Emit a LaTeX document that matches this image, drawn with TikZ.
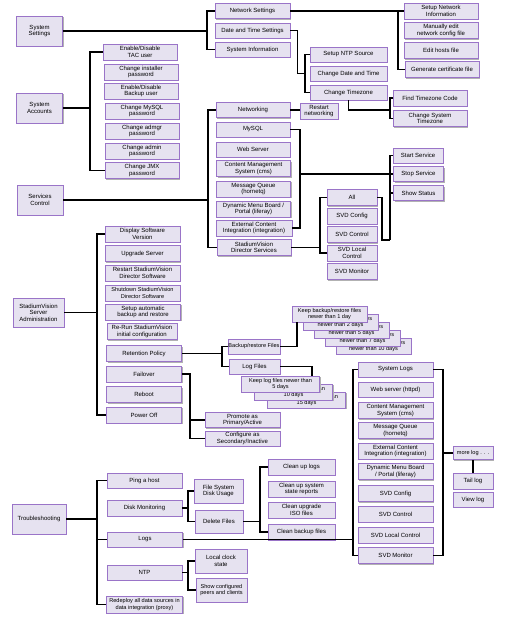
\documentclass[tikz,border=0pt]{standalone}
\usepackage{fontspec}
\newfontfamily\menufont{Liberation Sans}
\usetikzlibrary{shadows}
\definecolor{boxfill}{HTML}{E6E2F0}
\definecolor{boxline}{HTML}{9A74C8}
\newcommand\menusize{\menufont\fontsize{6}{6.6}\selectfont}
\tikzset{
  menu/.style={draw=boxline, fill=boxfill, line width=0.7pt, align=center, font=\menusize,
    inner sep=0.5pt, minimum width=74pt, minimum height=15pt,
    general shadow={fill=black!30, shadow xshift=1.3pt, shadow yshift=-1.3pt}},
  root/.style={menu, minimum width=46pt, minimum height=30pt},
  tight/.style={font=\menufont\fontsize{5.6}{6.4}\selectfont},
  link/.style={line width=1.1pt}
}
\begin{document}
\begin{tikzpicture}[x=1pt,y=-1pt]
\useasboundingbox[fill=white] (0,0) rectangle (527,621);

\node[root] (sysset) at (39.5,31) {System\\Settings};
\node[root] (sysacc) at (39.5,108) {System\\Accounts};
\node[root] (svcctl) at (40,200) {Services\\Control};
\node[root, minimum width=51pt, minimum height=29pt] (svsa) at (38.5,312.5) {StadiumVision\\Server\\Administration};
\node[root, minimum width=54pt] (trouble) at (39,519) {Troubleshooting};

\node[menu, minimum width=75pt] (netset) at (252.5,11) {Network Settings};
\node[menu, minimum width=75pt] (datetime) at (252.5,30.5) {Date and Time Settings};
\node[menu, minimum width=75pt] (sysinfo) at (252.5,49.5) {System Information};

\node[menu, minimum height=16pt] (netinfo) at (441,11) {Setup Network\\Information};
\node[menu, minimum height=16pt] (netcfg) at (441,30.5) {Manually edit\\network config file};
\node[menu, minimum height=16pt] (hosts) at (441,50.5) {Edit hosts file};
\node[menu, minimum height=16pt] (cert) at (442,69.5) {Generate certificate file};

\node[menu, minimum width=77pt] (ntpsrc) at (348.5,54.5) {Setup NTP Source};
\node[menu, minimum width=77pt] (chdate) at (348.5,73.5) {Change Date and Time};
\node[menu, minimum width=77pt] (chtz) at (348.5,92.5) {Change Timezone};
\node[menu, minimum height=16pt] (findtz) at (430,98) {Find Timezone Code};
\node[menu, minimum height=16pt] (settz) at (430,118.5) {Change System\\Timezone};

\node[menu, minimum height=16pt] (tacuser) at (140,52) {Enable/Disable\\TAC user};
\node[menu, minimum height=16pt] (instpw) at (141,72) {Change installer\\password};
\node[menu, minimum height=16pt] (bkuser) at (141,91) {Enable/Disable\\Backup user};
\node[menu, minimum height=16pt] (mysqlpw) at (142,111) {Change MySQL\\password};
\node[menu, minimum height=16pt] (admgrpw) at (142,131) {Change admgr\\password};
\node[menu, minimum height=16pt] (adminpw) at (142,151) {Change admin\\password};
\node[menu, minimum height=16pt] (jmxpw) at (142,170.5) {Change JMX\\password};

\node[menu] (netw) at (253,110) {Networking};
\node[menu] (mysql) at (253,129.5) {MySQL};
\node[menu] (websrv) at (253,149.5) {Web Server};
\node[menu, minimum height=16pt] (cms) at (253.5,168.5) {Content Management\\System (cms)};
\node[menu, minimum height=16pt] (mq) at (253.5,189) {Message Queue\\(hornetq)};
\node[menu, minimum height=16pt] (dmb) at (253.5,209) {Dynamic Menu Board /\\Portal (liferay)};
\node[menu, minimum height=16pt, minimum width=76pt] (eci) at (254,228) {External Content\\Integration (integration)};
\node[menu, minimum height=16pt] (svds) at (254,247.5) {StadiumVision\\Director Services};
\node[menu, minimum width=38pt, minimum height=16pt] (restartnet) at (319,111) {Restart\\networking};

\node[menu, minimum width=50pt] (start) at (418,155.5) {Start Service};
\node[menu, minimum width=50pt] (stop) at (418.5,174) {Stop Service};
\node[menu, minimum width=50pt] (status) at (418.5,193) {Show Status};

\node[menu, minimum width=50pt, minimum height=16pt] (all) at (352,197.5) {All};
\node[menu, minimum width=50pt, minimum height=16pt] (svdcfg) at (352,216) {SVD Config};
\node[menu, minimum width=50pt, minimum height=16pt] (svdctl) at (352,234.5) {SVD Control};
\node[menu, minimum width=50pt, minimum height=16pt] (svdlocal) at (352,253) {SVD Local\\Control};
\node[menu, minimum width=50pt, minimum height=16pt] (svdmon) at (352,271.5) {SVD Monitor};

\node[menu, minimum width=75pt, minimum height=16pt] (dispver) at (142.5,234) {Display Software\\Version};
\node[menu, minimum width=75pt, minimum height=16pt] (upgrade) at (142.5,253.5) {Upgrade Server};
\node[menu, minimum width=75pt, minimum height=16pt] (restartsv) at (142.5,273) {Restart StadiumVision\\Director Software};
\node[menu, tight, minimum width=75pt, minimum height=16pt] (shutsv) at (142.5,293) {Shutdown StadiumVision\\Director Software};
\node[menu, minimum width=75pt, minimum height=16pt] (autobk) at (143,312) {Setup automatic\\backup and restore};
\node[menu, minimum width=70pt, minimum height=16pt] (rerun) at (142,331.5) {Re-Run StadiumVision\\initial configuration};
\node[menu, minimum width=75pt, minimum height=16pt] (retpol) at (144,353.5) {Retention Policy};
\node[menu, minimum width=75pt, minimum height=16pt] (failover) at (144,374) {Failover};
\node[menu, minimum width=75pt, minimum height=16pt] (reboot) at (144,394.5) {Reboot};
\node[menu, minimum width=75pt, minimum height=16pt] (poweroff) at (144,415) {Power Off};

\node[menu, tight, minimum width=50pt] (bkfiles) at (254,346.5) {Backup/restore Files};
\node[menu, minimum width=51pt] (logf) at (254.5,366.5) {Log Files};

\node[menu, tight, minimum width=75pt, minimum height=16pt] (keep5) at (373.5,346) {\phantom{Keep backup/restore }files\\newer than 10 days};
\node[menu, tight, minimum width=75pt, minimum height=16pt] (keep4) at (362.5,338) {\phantom{Keep backup/restore }files\\newer than 7 days};
\node[menu, tight, minimum width=75pt, minimum height=16pt] (keep3) at (351.5,330) {\phantom{Keep backup/restore }files\\newer than 5 days};
\node[menu, tight, minimum width=75pt, minimum height=16pt] (keep2) at (340.5,322) {\phantom{Keep backup/restore }files\\newer than 2 days};
\node[menu, tight, minimum width=75pt, minimum height=16pt] (keep1) at (329.5,314) {Keep backup/restore files\\newer than 1 day};

\node[menu, tight, minimum width=78pt, minimum height=16pt] (logk3) at (306.5,400) {\phantom{Keep log files newer }than\\15 days};
\node[menu, tight, minimum width=78pt, minimum height=16pt] (logk2) at (293.5,392) {\phantom{Keep log files newer }than\\10 days};
\node[menu, tight, minimum width=78pt, minimum height=16pt] (logk1) at (280.5,384) {Keep log files newer than\\5 days};

\node[menu, minimum width=75pt] (promote) at (242.5,420) {Promote as\\Primary/Active};
\node[menu, minimum width=75pt] (secondary) at (242.5,438.5) {Configure as\\Secondary/Inactive};

\node[menu, minimum width=75pt] (syslogs) at (395.5,369.5) {System Logs};
\node[menu, minimum width=75pt] (httpd) at (395.5,389.5) {Web server (httpd)};
\node[menu, minimum width=75pt, minimum height=16pt] (lcms) at (395.5,410.5) {Content Management\\System (cms)};
\node[menu, minimum width=75pt, minimum height=16pt] (lmq) at (395.5,430.5) {Message Queue\\(hornetq)};
\node[menu, minimum width=75pt, minimum height=16pt] (leci) at (395.5,451) {External Content\\Integration (integration)};
\node[menu, minimum width=75pt, minimum height=16pt] (ldmb) at (395.5,471.5) {Dynamic Menu Board\\/ Portal (liferay)};
\node[menu, minimum width=75pt, minimum height=16pt] (lsvdcfg) at (395.5,493.5) {SVD Config};
\node[menu, minimum width=75pt, minimum height=16pt] (lsvdctl) at (395.5,514) {SVD Control};
\node[menu, minimum width=75pt, minimum height=16pt] (lsvdlocal) at (395.5,535) {SVD Local Control};
\node[menu, minimum width=75pt, minimum height=16pt] (lsvdmon) at (395.5,555.5) {SVD Monitor};

\node[menu, tight, minimum width=40pt, minimum height=13pt] (morelog) at (473,453) {more log . . .};
\node[menu, minimum width=40pt, minimum height=16pt] (tail) at (473,481) {Tail log};
\node[menu, minimum width=40pt] (view) at (473,499.5) {View log};

\node[menu, minimum width=75pt] (ping) at (144.5,480.5) {Ping a host};
\node[menu, minimum width=75pt, minimum height=16pt] (diskmon) at (144.5,508) {Disk Monitoring};
\node[menu, minimum width=75pt] (logs) at (145,539.5) {Logs};
\node[menu, minimum width=75pt] (ntp) at (144.5,572.5) {NTP};
\node[menu, tight, minimum width=76pt, minimum height=17pt] (redeploy) at (144.5,604.5) {Redeploy all data sources in\\data integration (proxy)};

\node[menu, minimum width=49pt, minimum height=24pt] (fsusage) at (218.5,491) {File System\\Disk Usage};
\node[menu, minimum width=48pt, minimum height=23pt] (delfiles) at (219,521.5) {Delete Files};
\node[menu, minimum width=67pt, minimum height=16pt] (cleanlogs) at (301.5,467) {Clean up logs};
\node[menu, minimum width=67pt, minimum height=16pt] (cleanstate) at (301.5,489) {Clean up system\\state reports};
\node[menu, minimum width=67pt, minimum height=16pt] (cleaniso) at (301.5,510) {Clean upgrade\\ISO files};
\node[menu, minimum width=67pt, minimum height=16pt] (cleanbk) at (301.5,532) {Clean backup files};
\node[menu, minimum width=52pt, minimum height=24pt] (clock) at (221,561) {Local clock\\state};
\node[menu, tight, minimum width=51pt, minimum height=24pt] (peers) at (221.5,590) {Show configured\\peers and clients};

\coordinate (setbus) at (207,0);
\coordinate (netbus) at (398,0);
\coordinate (dtbus) at (305,0);
\coordinate (tzjoin) at (390,110);
\coordinate (accbus) at (90,0);
\coordinate (svcbus) at (208,0);
\coordinate (dbjoin) at (300,174);
\coordinate (opjoin) at (390,174);
\coordinate (svdjoin) at (390,240);
\coordinate (svdbus) at (320,0);
\coordinate (svdright) at (382,0);
\coordinate (admbus) at (97,0);
\coordinate (retbus) at (222,0);
\coordinate (bkup) at (297,0);
\coordinate (logup) at (312,0);
\coordinate (fobus) at (190,0);
\coordinate (logbus) at (353,0);
\coordinate (logright) at (443,0);
\coordinate (trbus) at (97,0);
\coordinate (diskbus) at (188,0);
\coordinate (delbus) at (260,0);

\draw[link] (sysset.east) -- (sysset.east -| setbus);
\draw[link] (netset.west) -| (setbus |- sysinfo) -- (sysinfo.west);
\draw[link] (netset.east) -- (netset.east -| netbus);
\draw[link] (netinfo.west) -| (netbus |- cert) -- (cert.west);
\draw[link] (datetime.east) -- ++(7,0) |- (dtbus |- chdate);
\draw[link] (ntpsrc.west) -| (dtbus |- chtz) -- (chtz.west);
\draw[link] (chtz.south) |- (tzjoin);
\draw[link] (findtz.west) -| (tzjoin) |- (settz.west);

\draw[link] (sysacc.east) -- (sysacc.east -| accbus);
\draw[link] (tacuser.west) -| (accbus |- jmxpw) -- (jmxpw.west);

\draw[link] (svcctl.east) -- (svcctl.east -| svcbus);
\draw[link] (netw.west) -| (svcbus |- svds) -- (svds.west);
\draw[link] (netw.east) -- (restartnet.west |- netw.east);
\draw[link] (mysql.east) -| (dbjoin |- eci) -- (eci.east);
\draw[link] (dbjoin) -- (opjoin) -- (stop.west);
\draw[link] (start.west) -| (svdjoin);
\draw[link] (status.west) -- (opjoin |- status);
\draw[link] (svds.east) -- (svds.east -| svdbus);
\draw[link] (all.west) -| (svdbus |- svdlocal) -- (svdlocal.west);
\draw[link] (all.east) -| (svdright |- svdjoin) -- (svdjoin);

\draw[link] (svsa.east) -- (svsa.east -| admbus);
\draw[link] (dispver.west) -| (admbus |- poweroff) -- (poweroff.west);
\draw[link] (retpol.east) -- (retpol.east -| retbus);
\draw[link] (bkfiles.west) -| (retbus |- logf) -- (logf.west);
\draw[link] (bkfiles.east) -| (bkup |- keep1.south);
\draw[link] (logf.east) -| (logup |- logk1.north);
\draw[link] (failover.east) -| (fobus |- secondary) -- (secondary.west);
\draw[link] (promote.west) -- (fobus |- promote);

\draw[link] (syslogs.west) -| (logbus |- lsvdmon) -- (lsvdmon.west);
\draw[link] (syslogs.east) -| (logright |- lsvdmon) -- (lsvdmon.east);
\draw[link] (morelog.west) -- (logright |- morelog);
\draw[link] (morelog) -- (tail);

\draw[link] (trouble.east) -- (trouble.east -| trbus);
\draw[link] (ping.west) -| (trbus |- redeploy) -- (redeploy.west);
\draw[link] (logs.west) -- (trbus |- logs);
\draw[link] (logs.east) -- (logbus |- logs);
\draw[link] (diskmon.east) -- (diskmon.east -| diskbus);
\draw[link] (fsusage.west) -| (diskbus |- delfiles) -- (delfiles.west);
\draw[link] (delfiles.east) -- (delfiles.east -| delbus);
\draw[link] (cleanlogs.west) -| (delbus |- cleanbk) -- (cleanbk.west);
\draw[link] (ntp.east) -- (ntp.east -| diskbus);
\draw[link] (clock.west) -| (diskbus |- peers) -- (peers.west);
\end{tikzpicture}
\end{document}
